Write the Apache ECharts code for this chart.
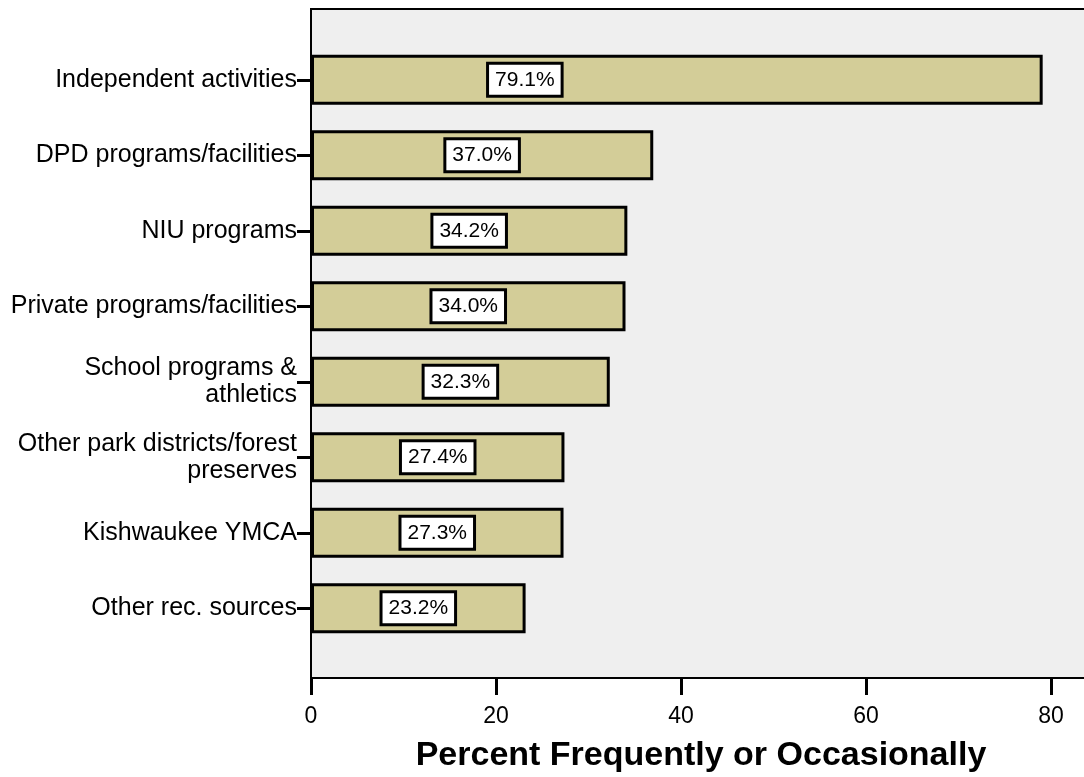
<!DOCTYPE html>
<html>
<head>
<meta charset="utf-8">
<script src="https://cdn.jsdelivr.net/npm/echarts@6/dist/echarts.min.js"></script>
<style>
  html, body { margin: 0; padding: 0; background: #fff; }
  #chart { width: 1084px; height: 777px; }
</style>
</head>
<body>
<div id="chart"></div>
<script>
// categories, top to bottom
const categories = [
  "Independent activities",
  "DPD programs/facilities",
  "NIU programs",
  "Private programs/facilities",
  "School programs &\nathletics",
  "Other park districts/forest\npreserves",
  "Kishwaukee YMCA",
  "Other rec. sources"
];
const values = [79.1, 37.0, 34.2, 34.0, 32.3, 27.4, 27.3, 23.2];
const xMin = 0;
const xMax = 100;
const xStep = 20;
const xTitle = "Percent Frequently or Occasionally";

const font = "'Liberation Sans', Arial, sans-serif";

const barData = values.map((v, i) => {
  const item = { value: v };
  // the first label sits left of the bar's middle in the original
  if (i === 0) item.label = { offset: [-152, 0] };
  return item;
});

const chart = echarts.init(document.getElementById("chart"));
chart.setOption({
  animation: false,
  backgroundColor: "#ffffff",
  grid: [
    // frame + x axis (runs off the right edge like the original)
    {
      left: 311, top: 9, bottom: 99, right: -152,
      outerBoundsMode: "none",
      show: true,
      backgroundColor: "#efefef",
      borderColor: "#000",
      borderWidth: 2
    },
    // bars
    { left: 311, top: 42, bottom: 131, right: -152, outerBoundsMode: "none" }
  ],
  xAxis: [
    {
      gridIndex: 0,
      type: "value",
      min: xMin, max: xMax, interval: xStep,
      splitLine: { show: false },
      axisLine: { show: true, lineStyle: { color: "#000", width: 2 } },
      axisTick: { show: true, length: 17, lineStyle: { color: "#000", width: 3 } },
      axisLabel: { color: "#000", fontSize: 23, fontFamily: font, margin: 27 }
    },
    {
      gridIndex: 1,
      type: "value",
      min: xMin, max: xMax,
      show: false
    }
  ],
  yAxis: [
    {
      gridIndex: 0,
      type: "value",
      show: false
    },
    {
      gridIndex: 1,
      type: "category",
      inverse: true,
      data: categories,
      axisLine: { show: false },
      axisTick: { show: true, alignWithLabel: true, length: 14, lineStyle: { color: "#000", width: 3 } },
      axisLabel: {
        color: "#000", fontSize: 25, fontFamily: font, margin: 14,
        lineHeight: 27, align: "right"
      }
    }
  ],
  series: [
    {
      type: "bar",
      xAxisIndex: 1,
      yAxisIndex: 1,
      data: barData,
      barWidth: 50,
      itemStyle: { color: "#d3cd98", borderColor: "#000", borderWidth: 3 },
      label: {
        show: true,
        position: "inside",
        formatter: (p) => p.value.toFixed(1) + "%",
        color: "#000",
        fontSize: 21,
        fontFamily: font,
        backgroundColor: "#fff",
        borderColor: "#000",
        borderWidth: 3,
        padding: [5, 6, 4, 6]
      }
    }
  ],
  graphic: [
    {
      type: "text",
      x: 701,
      y: 756,
      style: {
        text: xTitle,
        font: "bold 34px " + font,
        fill: "#000",
        textAlign: "center",
        textVerticalAlign: "middle"
      }
    }
  ]
});
</script>
</body>
</html>
